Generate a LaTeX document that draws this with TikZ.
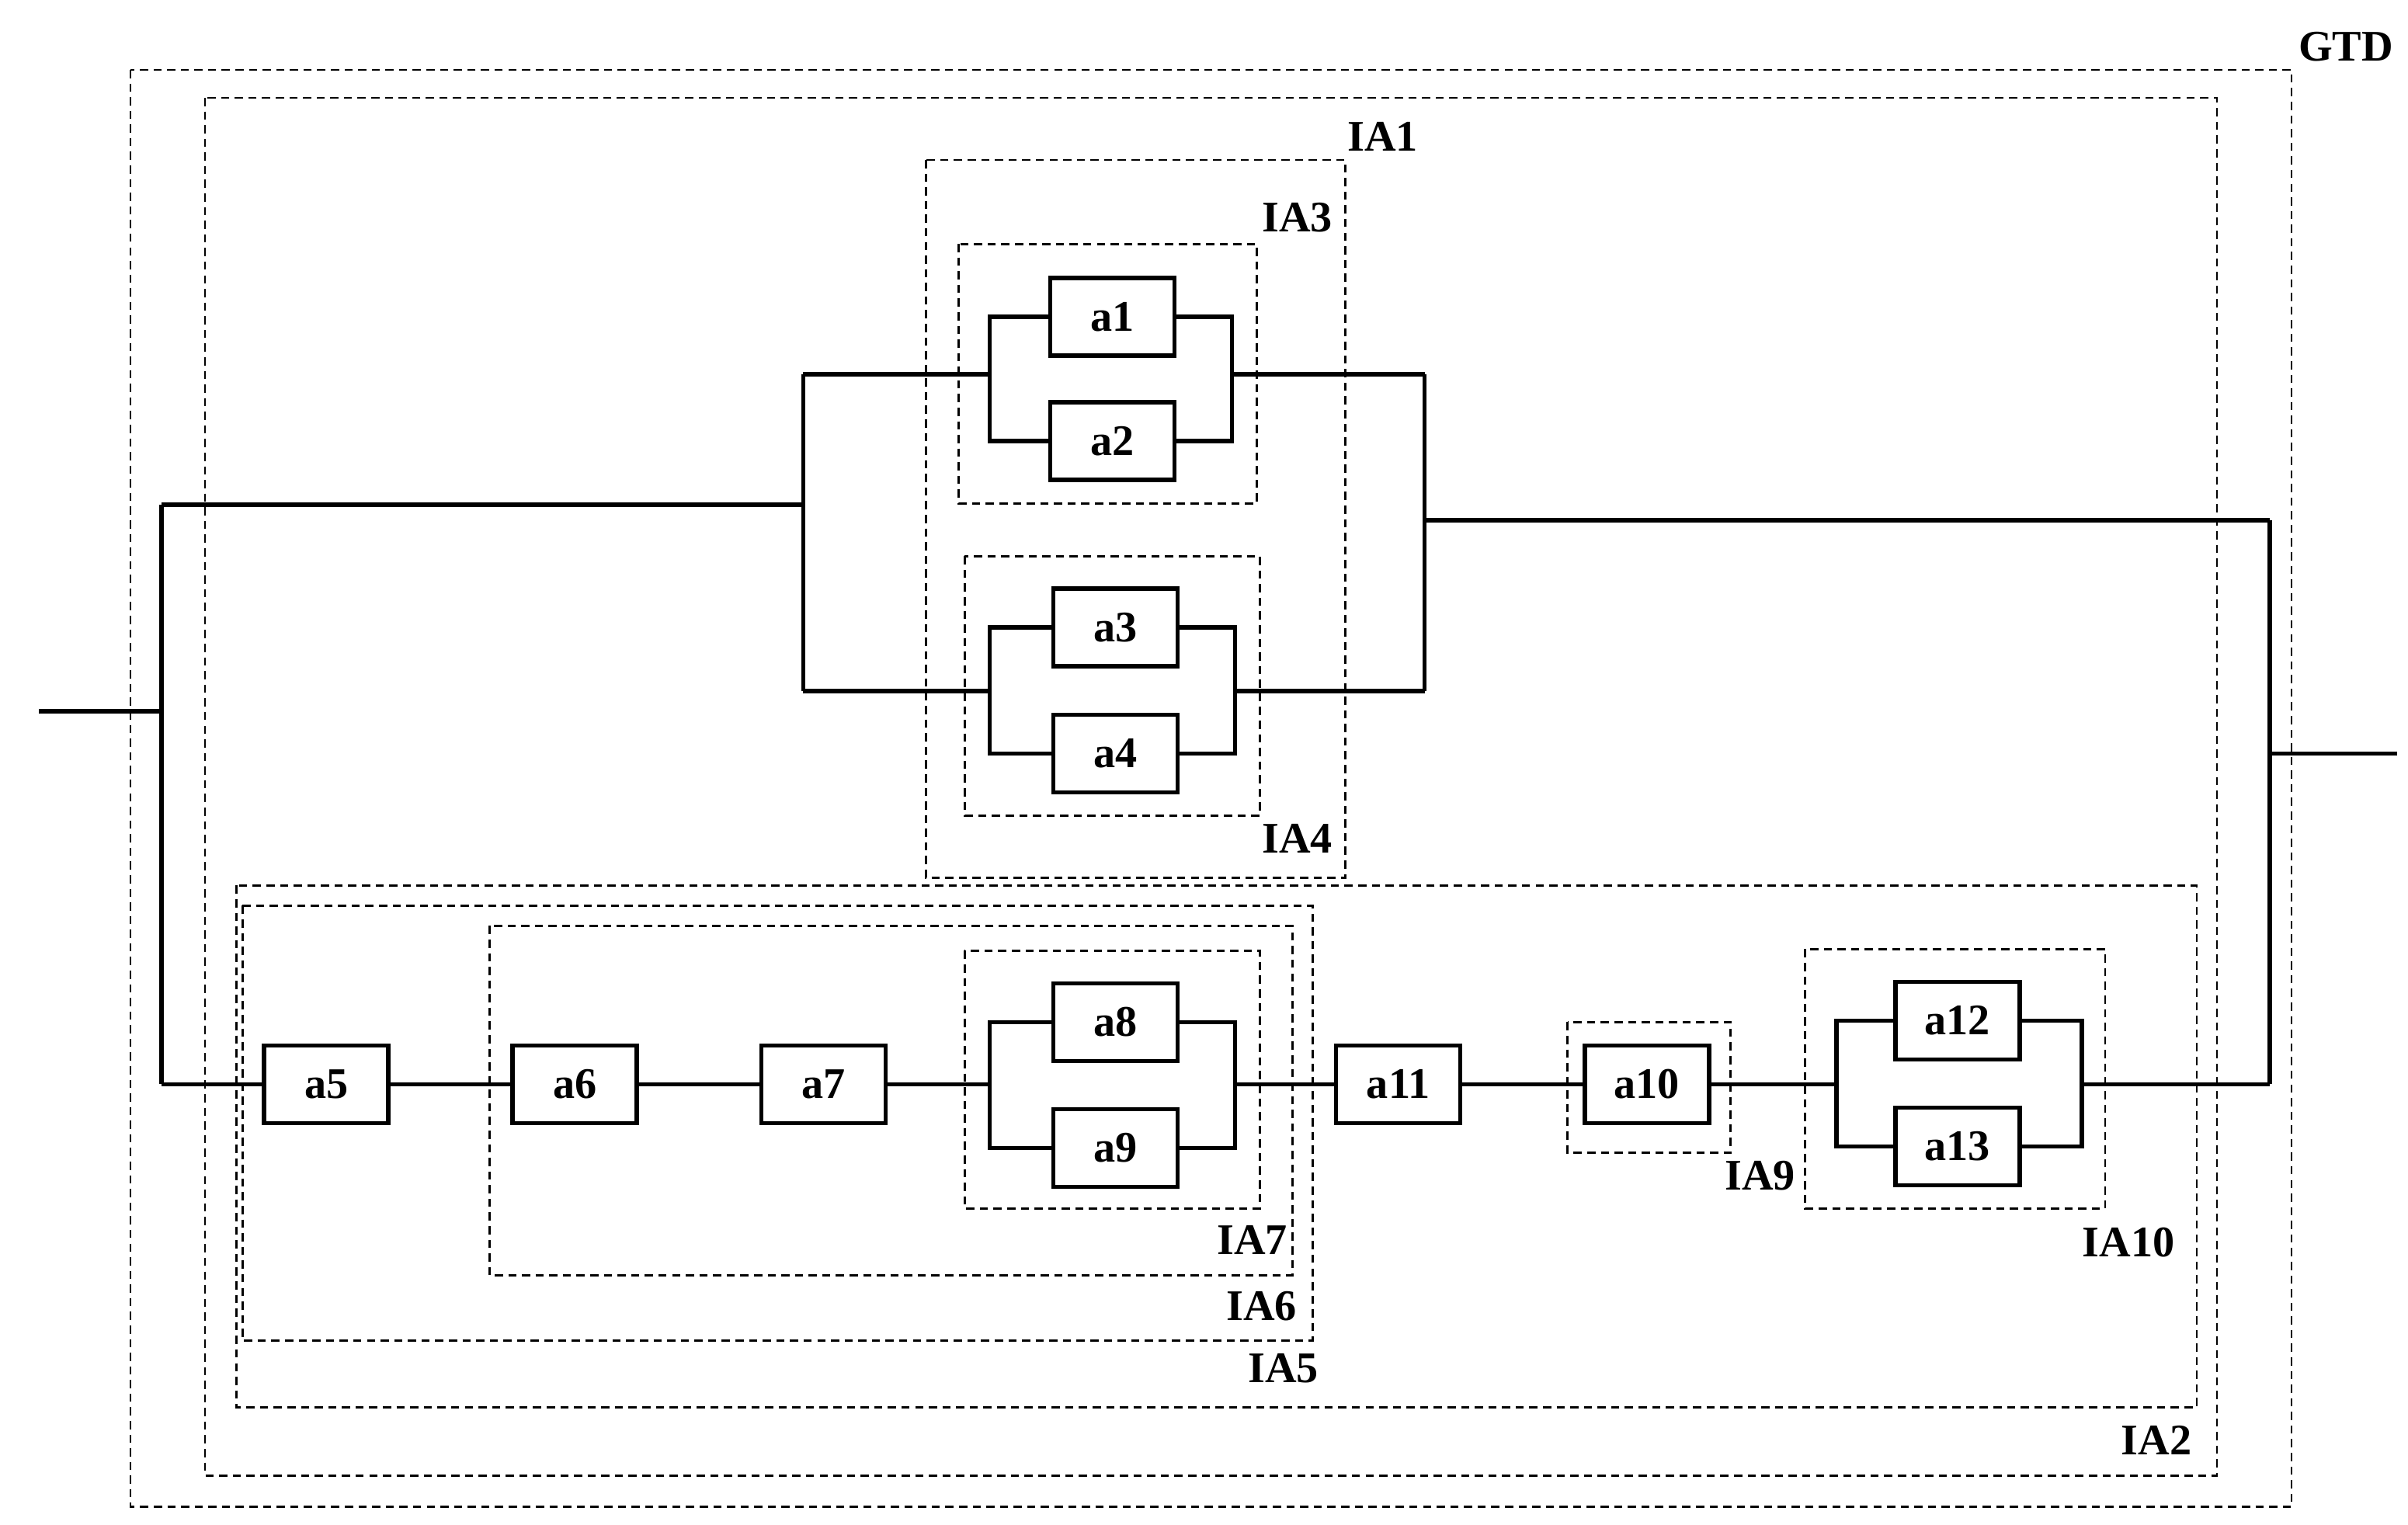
\documentclass[tikz,border=0pt]{standalone}
\usepackage{fontspec}
\setmainfont{Liberation Serif}
\begin{document}
\begin{tikzpicture}[x=0.02cm,y=-0.02cm,
  blk/.style={draw,line width=1.6pt,minimum width=1.6cm,minimum height=1cm,inner sep=0pt,font=\fontsize{16}{18}\selectfont\bfseries},
  grp/.style={draw,dashed,line width=0.8pt,dash pattern=on 3pt off 2pt},
  lbl/.style={font=\fontsize{16}{18}\selectfont\bfseries},
  w/.style={line width=1.6pt}]
\useasboundingbox (0,0) rectangle (1550,981.5);
% groups
\draw[grp] (84,45) rectangle (1475,970);
\draw[grp] (132,63) rectangle (1427,950);
\draw[grp] (596,103) rectangle (866,565);
\draw[grp] (617,157) rectangle (809,324);
\draw[grp] (621,358) rectangle (811,525);
\draw[grp] (152,570) rectangle (1414,906);
\draw[grp] (156,583) rectangle (845,863);
\draw[grp] (315,596) rectangle (832,821);
\draw[grp] (621,612) rectangle (811,778);
\draw[grp] (1009,658) rectangle (1114,742);
\draw[grp] (1162,611) rectangle (1355,778);
\node[lbl] (lGTD) at (1510,30) {GTD};
\node[lbl] (lIA1) at (890,88) {IA1};
\node[lbl] (lIA3) at (835,140) {IA3};
\node[lbl] (lIA4) at (835,540) {IA4};
\node[lbl] (lIA7) at (806,798) {IA7};
\node[lbl] (lIA6) at (812,841) {IA6};
\node[lbl] (lIA5) at (826,881) {IA5};
\node[lbl] (lIA2) at (1388,927) {IA2};
\node[lbl] (lIA9) at (1133,757) {IA9};
\node[lbl] (lIA10) at (1370,800) {IA10};
% blocks
\node[blk] (a1) at (716,204) {a1};
\node[blk] (a2) at (716,284) {a2};
\node[blk] (a3) at (718,404) {a3};
\node[blk] (a4) at (718,485) {a4};
\node[blk] (a5) at (210,698) {a5};
\node[blk] (a6) at (370,698) {a6};
\node[blk] (a7) at (530,698) {a7};
\node[blk] (a8) at (718,658) {a8};
\node[blk] (a9) at (718,739) {a9};
\node[blk] (a11) at (900,698) {a11};
\node[blk] (a10) at (1060,698) {a10};
\node[blk] (a12) at (1260,657) {a12};
\node[blk] (a13) at (1260,738) {a13};
% coordinates
\coordinate (in) at (25,458);
\coordinate (j0) at (104,458);
\coordinate (j0t) at (104,325);
\coordinate (j0b) at (104,698);
\coordinate (t1) at (517,325);
\coordinate (t1a) at (517,241);
\coordinate (t1b) at (517,445);
\coordinate (p1l) at (637,241);
\coordinate (p2l) at (637,445);
\coordinate (p1r) at (793,241);
\coordinate (p2r) at (795,445);
\coordinate (t2a) at (917,241);
\coordinate (t2b) at (917,445);
\coordinate (t2) at (917,335);
\coordinate (j1t) at (1461,335);
\coordinate (j1) at (1461,485);
\coordinate (j1b) at (1461,698);
\coordinate (out) at (1543,485);
\coordinate (p3l) at (637,698);
\coordinate (p3r) at (795,698);
\coordinate (p4l) at (1182,698);
\coordinate (p4r) at (1340,698);
% wires
\draw[w] (in) -- (j0);
\draw[w] (j0t) -- (j0b);
\draw[w] (j0t) -- (t1);
\draw[w] (j0b) -- (a5);
\draw[w] (t1a) -- (t1b);
\draw[w] (t1a) -- (p1l);
\draw[w] (t1b) -- (p2l);
\draw[w] (a1.west) -| (637,204) |- (a2.west);
\draw[w] (a1.east) -| (793,204) |- (a2.east);
\draw[w] (a3.west) -| (637,404) |- (a4.west);
\draw[w] (a3.east) -| (795,404) |- (a4.east);
\draw[w] (p1r) -- (t2a);
\draw[w] (p2r) -- (t2b);
\draw[w] (t2a) -- (t2b);
\draw[w] (t2) -- (j1t);
\draw[w] (j1t) -- (j1b);
\draw[w] (j1) -- (out);
\draw[w] (a5) -- (a6);
\draw[w] (a6) -- (a7);
\draw[w] (a7) -- (p3l);
\draw[w] (a8.west) -| (637,658) |- (a9.west);
\draw[w] (a8.east) -| (795,658) |- (a9.east);
\draw[w] (p3r) -- (a11);
\draw[w] (a11) -- (a10);
\draw[w] (a10) -- (p4l);
\draw[w] (a12.west) -| (1182,657) |- (a13.west);
\draw[w] (a12.east) -| (1340,657) |- (a13.east);
\draw[w] (p4r) -- (j1b);
\end{tikzpicture}
\end{document}
